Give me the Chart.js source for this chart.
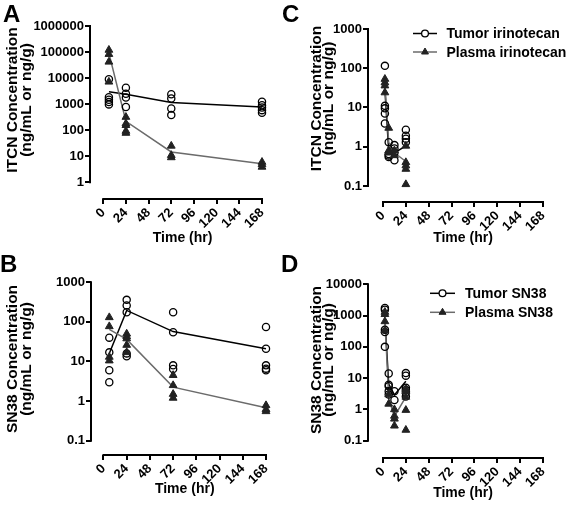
<!DOCTYPE html>
<html>
<head>
<meta charset="utf-8">
<script src="https://cdn.jsdelivr.net/npm/chart.js@4.4.1/dist/chart.umd.min.js"></script>
<style>
  body { margin: 0; background: #fff; }
  #wrap { position: relative; width: 567px; height: 506px; font-family: "Liberation Sans", Arial, sans-serif; }
  #wrap canvas { position: absolute; }
  .tag { position: absolute; font-size: 24px; line-height: 24px; font-weight: bold; color: #000; }
</style>
</head>
<body>
<div id="wrap">
  <canvas id="chartA" width="283" height="250" style="left:0;top:0;width:283px;height:250px"></canvas>
  <canvas id="chartC" width="284" height="250" style="left:283px;top:0;width:284px;height:250px"></canvas>
  <canvas id="chartB" width="283" height="256" style="left:0;top:250px;width:283px;height:256px"></canvas>
  <canvas id="chartD" width="284" height="256" style="left:283px;top:250px;width:284px;height:256px"></canvas>
  <div class="tag" style="left:3px;top:2px">A</div>
  <div class="tag" style="left:282px;top:2px">C</div>
  <div class="tag" style="left:0px;top:252px">B</div>
  <div class="tag" style="left:281px;top:252px">D</div>
</div>
<script>
// tick labels shared by all panels
const xTicks = [0, 24, 48, 72, 96, 120, 144, 168];
const xTitle = 'Time (hr)';

// A: irinotecan, 0-168 h
const aTimes = [6, 24, 72, 168];
const aTumor = [[9100, 1860, 1480, 1200, 980], [4300, 2500, 1800, 780], [2400, 1650, 680, 380], [1230, 910, 740, 590, 470]];
const aPlasma = [[120000, 83000, 42000, 7200], [320, 180, 155, 93, 78], [25, 11, 9], [6, 4.9, 3.9]];
const aTumorMean = [3000, 2400, 1150, 770];
const aPlasmaMean = [91000, 220, 14.6, 5.2];
const aYTicks = [1, 10, 100, 1000, 10000, 100000, 1000000];

// B: SN38, 0-168 h
const bTimes = [6, 24, 72, 168];
const bTumor = [[40, 17, 6, 3], [360, 260, 175, 16, 13.5], [175, 55, 8, 6.5], [74, 21, 8, 6.6, 6]];
const bPlasma = [[130, 77, 13, 10.5], [50, 43, 38, 26, 17], [4.5, 2.5, 1.5, 1.2], [0.78, 0.62, 0.55]];
const bTumorMean = [16, 195, 57, 21];
const bPlasmaMean = [65, 36, 2.25, 0.68];
const bYTicks = [0.1, 1, 10, 100, 1000];

// C: irinotecan, 0-24 h
const cTimes = [2, 6, 12, 24];
const cTumor = [[115, 11, 9.5, 7, 3.9], [1.3, 0.6, 0.55, 0.65], [1.1, 0.9, 0.7, 0.45], [2.7, 1.9, 1.6, 1.3]];
const cPlasma = [[53, 43, 36, 24], [3.0, 0.8, 0.7], [0.8, 0.6], [1.05, 0.4, 0.33, 0.27, 0.11]];
const cTumorMean = [28, 0.8, 0.7, 1.05];
const cPlasmaMean = [38, 1.3, 0.7, 0.42];
const cYTicks = [0.1, 1, 10, 100, 1000];

// D: SN38, 0-24 h
const dTimes = [2, 6, 12, 24];
const dTumor = [[1750, 1550, 350, 300, 100], [14, 6.2, 5.5, 3.8, 3.0], [3.8, 2.0], [14.5, 12, 4.9, 4.2, 3.5, 2.6]];
const dPlasma = [[1300, 1100, 650, 330], [3.0, 1.5], [1.0, 0.62, 0.5, 0.3], [4.5, 3.8, 2.5, 0.95, 0.22]];
const dTumorMean = [800, 6.5, 2.9, 8];
const dPlasmaMean = [850, 2.2, 0.6, 2.5];
const dYTicks = [0.1, 1, 10, 100, 1000, 10000];

Chart.defaults.font.family = '"Liberation Sans", Arial, sans-serif';
Chart.defaults.color = '#000';

const tickFont = { size: 13, weight: 'bold' };
const PLASMA_LINE = '#6b6b6b';
const MARK = '#222';

function flatten(times, groups) {
    const pts = [];
    groups.forEach((vals, i) => vals.forEach(v => pts.push({ x: times[i], y: v })));
    return pts;
}
function pairs(times, vals) {
    return times.map((t, i) => ({ x: t, y: vals[i] }));
}
function fmt(v) {
    return v < 1 ? v.toFixed(1) : String(v);
}

// Prism-style axes: lines only from first to last tick, titles and legend
const prismPlugin = {
    id: 'prism',
    beforeDatasetsDraw(chart) {
        const { ctx, chartArea: a, scales: { x, y } } = chart;
        const yt = y.ticks, xt = x.ticks;
        ctx.save();
        ctx.strokeStyle = '#000';
        ctx.lineWidth = 2;
        ctx.lineCap = 'square';
        ctx.beginPath();
        ctx.moveTo(a.left, y.getPixelForValue(yt[0].value));
        ctx.lineTo(a.left, y.getPixelForValue(yt[yt.length - 1].value));
        ctx.moveTo(x.getPixelForValue(xt[0].value), a.bottom);
        ctx.lineTo(x.getPixelForValue(xt[xt.length - 1].value), a.bottom);
        ctx.stroke();
        ctx.restore();
    },
    afterDraw(chart, args, o) {
        const { ctx, chartArea: a, scales: { x } } = chart;
        ctx.save();
        ctx.fillStyle = '#000';
        // y title, two rotated lines
        ctx.font = 'bold 15.5px "Liberation Sans", Arial, sans-serif';
        ctx.textAlign = 'center';
        ctx.textBaseline = 'alphabetic';
        o.yTitle.forEach((line, i) => {
            ctx.save();
            ctx.translate(o.yTitleX[i], o.yTitleY);
            ctx.rotate(-Math.PI / 2);
            ctx.fillText(line, 0, 0);
            ctx.restore();
        });
        // x title centred on the drawn x axis
        ctx.font = 'bold 14px "Liberation Sans", Arial, sans-serif';
        const xc = (x.getPixelForValue(xTicks[0]) + x.getPixelForValue(xTicks[xTicks.length - 1])) / 2;
        ctx.fillText(xTitle, xc, o.xTitleY);
        // legend
        if (o.legend) {
            const L = o.legend;
            L.items.forEach((it, i) => {
                const yy = L.y + i * L.dy;
                ctx.strokeStyle = it.line;
                ctx.lineWidth = 1.5;
                ctx.beginPath();
                ctx.moveTo(L.x, yy);
                ctx.lineTo(L.x + L.len, yy);
                ctx.stroke();
                ctx.fillStyle = it.style === 'circle' ? '#fff' : MARK;
                ctx.strokeStyle = it.style === 'circle' ? '#000' : MARK;
                ctx.lineWidth = it.style === 'circle' ? 1.3 : 1;
                Chart.helpers.drawPoint(ctx, { pointStyle: it.style, radius: it.style === 'circle' ? 3.4 : 4, borderWidth: ctx.lineWidth, rotation: 0 }, L.x + L.len / 2, yy);
                ctx.fillStyle = '#000';
                ctx.font = 'bold 14px "Liberation Sans", Arial, sans-serif';
                ctx.textAlign = 'left';
                ctx.textBaseline = 'middle';
                ctx.fillText(it.label, L.textX, yy + 1);
            });
        }
        ctx.restore();
    }
};

function makePanel(id, p) {
    return new Chart(document.getElementById(id), {
        type: 'scatter',
        data: {
            datasets: [
                { data: flatten(p.times, p.plasma), pointStyle: 'triangle', pointRadius: 4.5, backgroundColor: MARK, borderColor: MARK, borderWidth: 1, clip: false },
                { data: flatten(p.times, p.tumor), pointStyle: 'circle', pointRadius: 3.6, backgroundColor: 'rgba(255,255,255,0)', borderColor: '#000', borderWidth: 1.3, clip: false },
                { data: pairs(p.times, p.plasmaMean), showLine: true, pointRadius: 0, borderColor: PLASMA_LINE, borderWidth: 1.5, clip: false },
                { data: pairs(p.times, p.tumorMean), showLine: true, pointRadius: 0, borderColor: '#000', borderWidth: 1.5, clip: false }
            ]
        },
        options: {
            responsive: false,
            animation: false,
            events: [],
            layout: { padding: { top: p.top, right: p.right, left: 0, bottom: 0 } },
            plugins: {
                legend: { display: false },
                tooltip: { enabled: false },
                prism: p.prism
            },
            scales: {
                x: {
                    type: 'linear',
                    min: p.xMin,
                    max: 168,
                    afterBuildTicks: s => { s.ticks = xTicks.map(v => ({ value: v })); },
                    afterFit: s => { s.height = p.xH; },
                    border: { display: false },
                    grid: { drawOnChartArea: false, color: '#000', lineWidth: 2, tickLength: 5 },
                    ticks: { autoSkip: false, minRotation: 45, maxRotation: 45, font: tickFont, padding: 1, color: '#000' }
                },
                y: {
                    type: 'logarithmic',
                    min: p.yMin,
                    max: p.yMax,
                    afterBuildTicks: s => { s.ticks = p.yTicks.map(v => ({ value: v })); },
                    afterFit: s => { s.width = p.yW; },
                    border: { display: false },
                    grid: { drawOnChartArea: false, color: '#000', lineWidth: 2, tickLength: 5 },
                    ticks: { font: tickFont, padding: 1, color: '#000', callback: v => fmt(v) }
                }
            }
        },
        plugins: [prismPlugin]
    });
}

makePanel('chartA', {
    times: aTimes, tumor: aTumor, plasma: aPlasma, tumorMean: aTumorMean, plasmaMean: aPlasmaMean, yTicks: aYTicks,
    yMin: 0.229, yMax: 1000000, xMin: -14, top: 26, right: 21, yW: 90, xH: 51,
    prism: { yTitle: ['ITCN Concentration', '(ng/mL or ng/g)'], yTitleX: [17.3, 30.6], yTitleY: 100, xTitleY: 242 }
});
makePanel('chartB', {
    times: bTimes, tumor: bTumor, plasma: bPlasma, tumorMean: bTumorMean, plasmaMean: bPlasmaMean, yTicks: bYTicks,
    yMin: 0.0435, yMax: 1000, xMin: -12.9, top: 32.3, right: 17, yW: 91, xH: 51,
    prism: { yTitle: ['SN38 Concentration', '(ng/mL or ng/g)'], yTitleX: [17.3, 30.6], yTitleY: 109, xTitleY: 242.5 }
});
makePanel('chartC', {
    times: cTimes, tumor: cTumor, plasma: cPlasma, tumorMean: cTumorMean, plasmaMean: cPlasmaMean, yTicks: cYTicks,
    yMin: 0.039, yMax: 1000, xMin: -15.75, top: 29, right: 24, yW: 85, xH: 48,
    prism: {
        yTitle: ['ITCN Concentration', '(ng/mL or ng/g)'], yTitleX: [37.7, 50.3], yTitleY: 98.5, xTitleY: 242,
        legend: { x: 130, y: 33.5, dy: 18.5, len: 24, textX: 163.5, items: [
            { label: 'Tumor irinotecan', style: 'circle', line: '#000' },
            { label: 'Plasma irinotecan', style: 'triangle', line: PLASMA_LINE }
        ] }
    }
});
makePanel('chartD', {
    times: dTimes, tumor: dTumor, plasma: dPlasma, tumorMean: dTumorMean, plasmaMean: dPlasmaMean, yTicks: dYTicks,
    yMin: 0.028, yMax: 10000, xMin: -15.75, top: 34.3, right: 24, yW: 85, xH: 48,
    prism: {
        yTitle: ['SN38 Concentration', '(ng/mL or ng/g)'], yTitleX: [37.7, 50.3], yTitleY: 110, xTitleY: 247,
        legend: { x: 147, y: 43.3, dy: 19, len: 25, textX: 182, items: [
            { label: 'Tumor SN38', style: 'circle', line: '#000' },
            { label: 'Plasma SN38', style: 'triangle', line: PLASMA_LINE }
        ] }
    }
});
</script>
</body>
</html>
